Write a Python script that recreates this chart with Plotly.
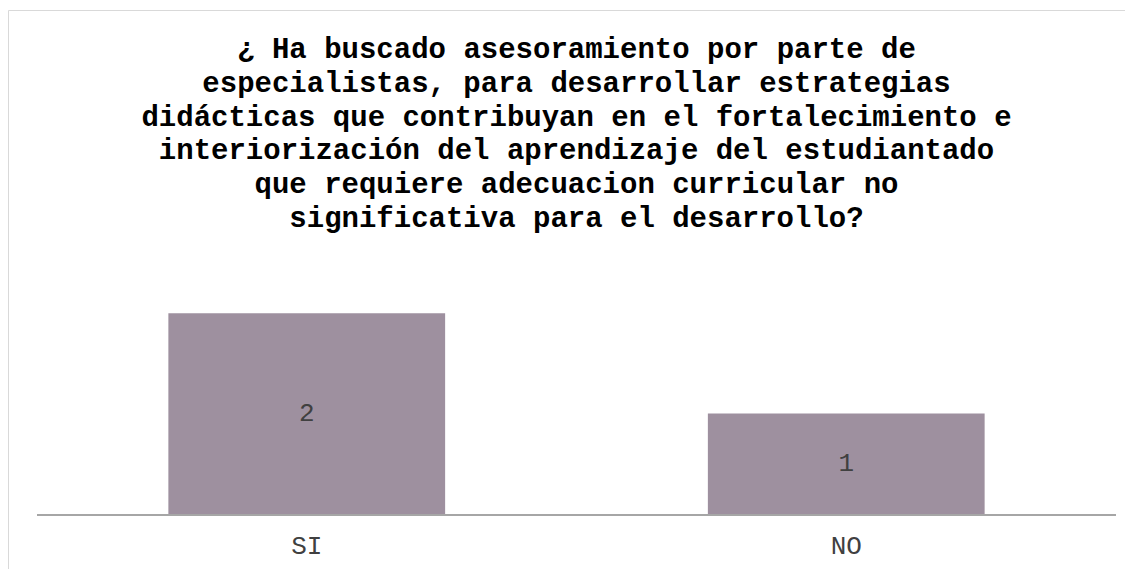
import plotly.graph_objects as go

categories = ["SI", "NO"]
values = [2, 1]
title_lines = [
    "¿ Ha buscado asesoramiento por parte de",
    "especialistas, para desarrollar estrategias",
    "didácticas que contribuyan en el fortalecimiento e",
    "interiorización del aprendizaje del estudiantado",
    "que requiere adecuacion curricular no",
    "significativa para el desarrollo?",
]

FONT = "Courier New, Liberation Mono, monospace"
OFF = 8  # page body margin offset
W, H = 1133 - OFF, 569 - OFF
ml, mr, mb, mt = 37 - OFF, 17, 55, 263 - OFF
ph = H - mt - mb
pw = W - ml - mr

title_text = "<br>".join(
    '<span style="font-size:29px">%s</span>' % line for line in title_lines)

fig = go.Figure(go.Bar(
    x=categories, y=values,
    marker=dict(color="#9E909F", line=dict(width=0)),
    text=[str(v) for v in values],
    textposition="inside", insidetextanchor="middle",
    textfont=dict(family=FONT, size=26, color="#404040"),
    width=0.513,
))

fig.update_layout(
    width=W, height=H,
    margin=dict(l=ml, r=mr, t=mt, b=mb, pad=0, autoexpand=False),
    paper_bgcolor="white", plot_bgcolor="white",
    showlegend=False,
    title=dict(text=title_text, x=0.5, xref="paper", xanchor="center",
               y=(H - 50) / H, yref="container", yanchor="top",
               font=dict(family=FONT, size=26, color="#000000", weight="bold")),
    xaxis=dict(showgrid=False, showline=True, linecolor="#a6a6a6", linewidth=1.5,
               ticks="", ticklabelstandoff=7, automargin=False,
               tickfont=dict(family=FONT, size=26, color="#404040"),
               range=[-0.5, 1.5]),
    yaxis=dict(visible=False, range=[0, 2.5], automargin=False),
    uniformtext=dict(mode="show", minsize=8),
)

# chart-area border (extends past the right and bottom edges of the image)
fig.add_shape(type="rect", xref="paper", yref="paper",
              x0=(0.5 - ml) / pw, x1=1.2,
              y0=-1.0, y1=(H - mb - (10.5 - OFF)) / ph,
              line=dict(color="#d9d9d9", width=1), fillcolor="rgba(0,0,0,0)",
              layer="below")

fig.write_html("out.html")
